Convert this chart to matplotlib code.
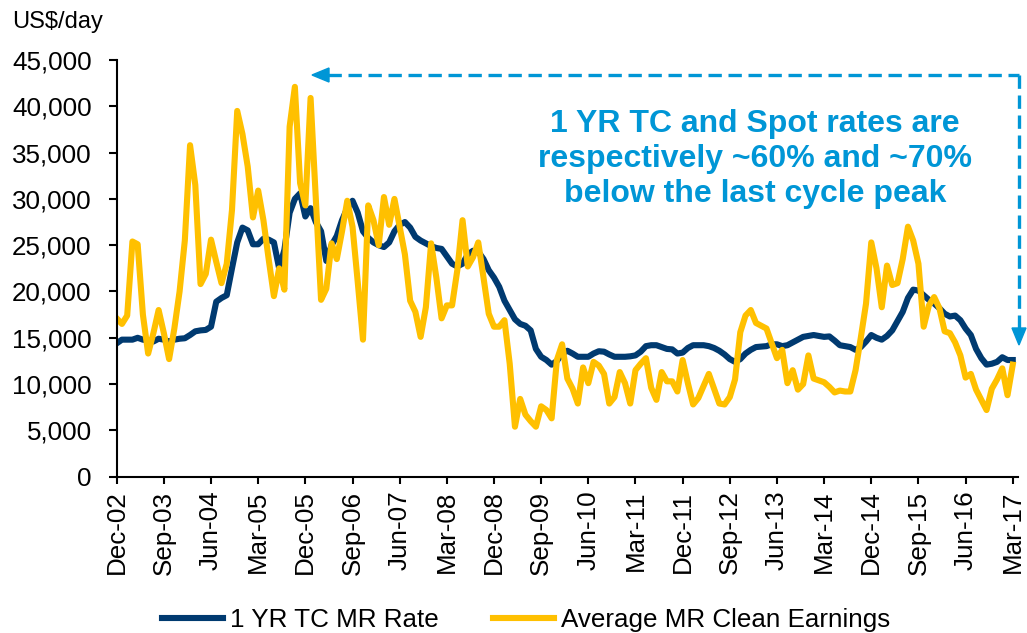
import matplotlib
matplotlib.use('Agg')
import matplotlib.pyplot as plt
from matplotlib.patches import Polygon
from matplotlib.lines import Line2D
from matplotlib.ticker import FuncFormatter

# monthly values, Dec-02 .. Mar-17 (172 months)
tc_rate = [
    14400, 14800, 14800, 14800, 15000, 14800, 14700, 14600, 14900, 14800,
    14600, 14800, 14900, 14950, 15300, 15700, 15800, 15850, 16200, 18900,
    19300, 19600, 22500, 25300, 26900, 26600, 25100, 25100, 25700, 25600,
    25300, 22500, 24500, 28500, 30000, 30600, 28100, 29000, 27500, 26500,
    23300, 25000, 26000, 27700, 29000, 29800, 28500, 26500, 25800, 25300,
    25000, 24800, 25300, 26500, 27200, 27500, 26900, 25900, 25500, 25200,
    24900, 24700, 24600, 23800, 23000, 22700, 23000, 24000, 24400, 24300,
    23500, 22300, 21500, 20500, 19000, 18000, 17000, 16500, 16300, 15800,
    13800, 12950, 12600, 12100, 12500, 13300, 13600, 13300, 12950, 12950,
    12950, 13300, 13550, 13500, 13200, 12950, 12950, 12950, 13000, 13100,
    13500, 14100, 14200, 14200, 14000, 13800, 13750, 13300, 13400, 13900,
    14200, 14200, 14200, 14100, 13900, 13600, 13200, 12700, 12400, 12700,
    13300, 13700, 14000, 14050, 14100, 14300, 14300, 14100, 14200, 14500,
    14800, 15100, 15200, 15300, 15200, 15100, 15150, 14700, 14200, 14100,
    14000, 13700, 14000, 14600, 15300, 15000, 14800, 15200, 15800, 16800,
    17800, 19300, 20200, 20100, 19600, 19100, 18700, 18200, 17600, 17300,
    17400, 16900, 16000, 15300, 13800, 12800, 12100, 12200, 12400, 12900,
    12600, 12600,
]

clean_earnings = [
    17100, 16500, 17400, 25400, 25100, 17500, 13300, 15500, 18000, 15500,
    12700, 16000, 20000, 25500, 35800, 31500, 20800, 21900, 25600, 23200,
    20900, 23000, 28800, 39500, 37000, 33500, 28000, 30900, 27700, 23500,
    19500, 22500, 20200, 37800, 42100, 31700, 29300, 40900, 30000, 19100,
    20300, 25200, 23500, 26500, 29800, 27000, 21000, 14800, 29300, 27700,
    25000, 30200, 27200, 30000, 27000, 24000, 19000, 17800, 15100, 18300,
    25200, 21500, 17100, 18500, 18500, 22300, 27700, 22700, 23700, 25300,
    21500, 17600, 16200, 16200, 16900, 12200, 5400, 8400, 6700, 6000,
    5400, 7600, 7200, 6300, 12600, 14300, 10600, 9500, 7900, 11800,
    10100, 12400, 12000, 11100, 7900, 8600, 11300, 10100, 7900, 11500,
    12200, 12800, 9600, 8300, 11300, 10300, 10300, 9200, 12600, 10100,
    7800, 8500, 9800, 11100, 9500, 7900, 7800, 8600, 10500, 15600,
    17400, 18000, 16600, 16300, 16000, 14400, 12800, 13700, 10100, 11500,
    9400, 10000, 13100, 10600, 10400, 10200, 9700, 9100, 9300, 9200,
    9200, 11500, 15000, 18700, 25300, 22500, 18300, 22800, 20700, 20900,
    23500, 27000, 25500, 23000, 16200, 18500, 19400, 18200, 15700, 15500,
    14500, 13100, 10700, 11100, 9400, 8300, 7200, 9500, 10500, 11700,
    8800, 12100,
]

tick_labels = ['Dec-02', 'Sep-03', 'Jun-04', 'Mar-05', 'Dec-05', 'Sep-06', 'Jun-07',
               'Mar-08', 'Dec-08', 'Sep-09', 'Jun-10', 'Mar-11', 'Dec-11', 'Sep-12',
               'Jun-13', 'Mar-14', 'Dec-14', 'Sep-15', 'Jun-16', 'Mar-17']

plt.rcParams['font.family'] = ['Liberation Sans', 'DejaVu Sans']

W, H = 1027, 633
fig = plt.figure(figsize=(W / 100, H / 100), dpi=100)
ax = fig.add_axes([116.7 / W, 1 - 476.7 / H, (1018 - 116.7) / W, (476.7 - 60) / H])

months = list(range(len(tc_rate)))
navy = '#003A70'
gold = '#FFC000'
ax.plot(months, tc_rate, color=navy, lw=4.4, label='1 YR TC MR Rate', solid_joinstyle='round')
ax.plot(months, clean_earnings, color=gold, lw=4.4, label='Average MR Clean Earnings',
        solid_joinstyle='round')

ax.set_xlim(0, 172)
ax.set_ylim(0, 45000)
ax.set_yticks(range(0, 45001, 5000))
ax.yaxis.set_major_formatter(FuncFormatter(lambda v, p: f'{v:,.0f}'))
ax.set_xticks(range(0, 172, 9))
ax.set_xticklabels(tick_labels, rotation=90)

for s in ['top', 'right']:
    ax.spines[s].set_visible(False)
for s in ['left', 'bottom']:
    ax.spines[s].set_linewidth(1.5)
ax.tick_params(axis='y', direction='out', length=6, width=1.5, labelsize=18.7, pad=12)
ax.tick_params(axis='x', direction='out', length=5, width=1.5, labelsize=18.7, pad=5)

fig.text(12 / W, 1 - 28 / H, 'US$/day', fontsize=17, ha='left', va='baseline')

fig.legend(loc='center', bbox_to_anchor=(526 / W, 1 - 620 / H), ncol=2, frameon=False,
           fontsize=18.7, handlelength=2.35, handletextpad=0.25, columnspacing=2.1,
           borderpad=0, borderaxespad=0)

# annotation: dashed arrows and text
blue = '#0096D6'
def fx(px):
    return px / W
def fy(py):
    return 1 - py / H

fig.add_artist(Line2D([fx(328), fx(1019)], [fy(75), fy(75)], color=blue, lw=2.4,
                      linestyle=(0, (4, 2)), transform=fig.transFigure))
fig.add_artist(Line2D([fx(1019), fx(1019)], [fy(75), fy(330)], color=blue, lw=2.4,
                      linestyle=(0, (4, 2)), transform=fig.transFigure))
fig.add_artist(Polygon([[fx(312), fy(75)], [fx(329), fy(68)], [fx(329), fy(82)]],
                       closed=True, color=blue, transform=fig.transFigure))
fig.add_artist(Polygon([[fx(1019), fy(345)], [fx(1012), fy(328)], [fx(1026), fy(328)]],
                       closed=True, color=blue, transform=fig.transFigure))

fig.text(fx(755), fy(159), '1 YR TC and Spot rates are\nrespectively ~60% and ~70%\nbelow the last cycle peak',
         color=blue, fontsize=23, fontweight='bold', ha='center', va='center', linespacing=1.2)

fig.savefig('out.png', dpi=100)
